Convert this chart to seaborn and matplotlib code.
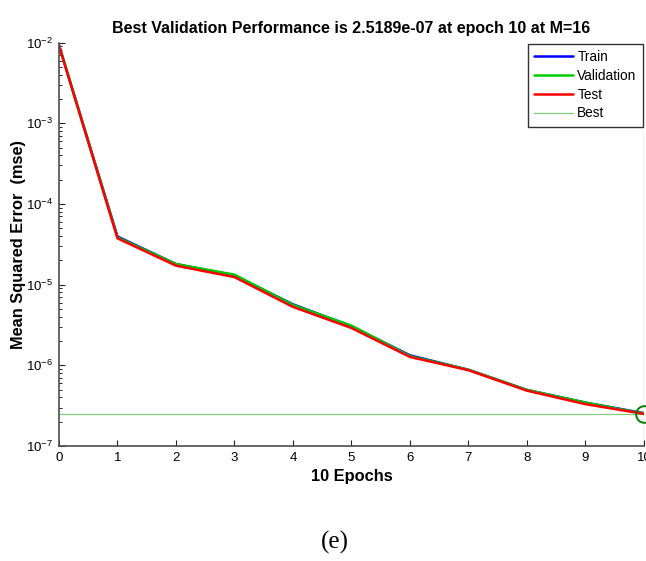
import pandas as pd
import seaborn as sns
import matplotlib.pyplot as plt
from matplotlib.ticker import LogLocator, NullFormatter

# Performance per epoch
epochs = [0, 1, 2, 3, 4, 5, 6, 7, 8, 9, 10]
train_mse = [9.3e-3, 3.95e-5, 1.80e-5, 1.30e-5, 5.70e-6, 3.05e-6, 1.33e-6, 8.8e-7, 4.95e-7, 3.45e-7, 2.55e-7]
val_mse = [9.3e-3, 3.85e-5, 1.80e-5, 1.33e-5, 5.60e-6, 3.10e-6, 1.30e-6, 8.8e-7, 4.95e-7, 3.45e-7, 2.5189e-7]
test_mse = [9.2e-3, 3.75e-5, 1.72e-5, 1.24e-5, 5.30e-6, 2.90e-6, 1.27e-6, 8.7e-7, 4.85e-7, 3.30e-7, 2.50e-7]
series_names = ['Train', 'Validation', 'Test']
series_colors = ['#0000ff', '#00cc00', '#ff0000']
best_epoch = 10
best_perf = 2.5189e-07


def build_frame():
    records = []
    for name, values in zip(series_names, [train_mse, val_mse, test_mse]):
        for ep, v in zip(epochs, values):
            records.append({'Epoch': ep, 'MSE': v, 'Set': name})
    return pd.DataFrame(records)


def plot_performance(df, output_path):
    sns.set_theme(style='white')
    plt.rcParams['font.family'] = ['Liberation Sans', 'DejaVu Sans']
    plt.rcParams['mathtext.fontset'] = 'custom'
    plt.rcParams['mathtext.rm'] = 'Liberation Sans'
    plt.rcParams['text.color'] = 'black'
    plt.rcParams['axes.labelcolor'] = 'black'

    fig = plt.figure(figsize=(6.46, 5.61), dpi=100)
    ax = fig.add_axes([0.0913, 0.205, 0.9056, 0.719])

    sns.lineplot(data=df, x='Epoch', y='MSE', hue='Set', hue_order=series_names,
                 palette=series_colors, linewidth=1.8, ax=ax, legend=False)

    best_color = '#7fcc7f'
    ax.axhline(best_perf, color=best_color, linewidth=0.9, zorder=1)
    ax.axvline(best_epoch, color=best_color, linewidth=0.9, zorder=1)
    ax.plot([best_epoch], [best_perf], marker='o', markersize=12, markerfacecolor='none',
            markeredgecolor='#008000', markeredgewidth=1.4, linestyle='none', clip_on=False, zorder=5)

    ax.set_yscale('log')
    ax.set_xlim(0, 10)
    ax.set_ylim(1e-7, 1e-2)
    ax.set_xticks(range(0, 11))
    ax.yaxis.set_major_locator(LogLocator(base=10, numticks=10))
    ax.yaxis.set_minor_locator(LogLocator(base=10, subs=range(2, 10), numticks=20))
    ax.yaxis.set_minor_formatter(NullFormatter())

    for side in ['top', 'right']:
        ax.spines[side].set_visible(False)
    for side in ['left', 'bottom']:
        ax.spines[side].set_color('#4d4d4d')
        ax.spines[side].set_linewidth(1.2)
    ax.tick_params(axis='both', which='major', direction='in', length=4, width=0.8,
                   color='#222222', labelsize=9.5, labelcolor='black', pad=4,
                   left=True, bottom=True)
    ax.tick_params(axis='y', which='minor', direction='in', length=2.5, width=0.7,
                   color='#222222', left=True)
    ax.tick_params(axis='x', which='minor', bottom=False)

    ax.set_title('Best Validation Performance is 2.5189e-07 at epoch 10 at M=16',
                 fontsize=11.5, fontweight='bold', pad=7)
    ax.set_xlabel('10 Epochs', fontsize=11.8, fontweight='bold', labelpad=4)
    ax.set_ylabel('Mean Squared Error  (mse)', fontsize=11.8, fontweight='bold', labelpad=0.5)

    handles = [plt.Line2D([], [], color=c, linewidth=1.8) for c in series_colors]
    handles.append(plt.Line2D([], [], color=best_color, linewidth=0.9))
    leg = ax.legend(handles, series_names + ['Best'], loc='upper right',
                    bbox_to_anchor=(1.0, 1.0), borderaxespad=0.1, fontsize=9.8,
                    handlelength=2.9, handletextpad=0.3, labelspacing=0.35,
                    fancybox=False, frameon=True, borderpad=0.45)
    leg.get_frame().set_edgecolor('black')
    leg.get_frame().set_linewidth(1.0)

    fig.text(0.518, 0.022, '(e)', fontsize=18, family='Liberation Serif', ha='center')

    fig.savefig(output_path, dpi=100)


if __name__ == "__main__":
    df = build_frame()
    plot_performance(df, 'out.png')
